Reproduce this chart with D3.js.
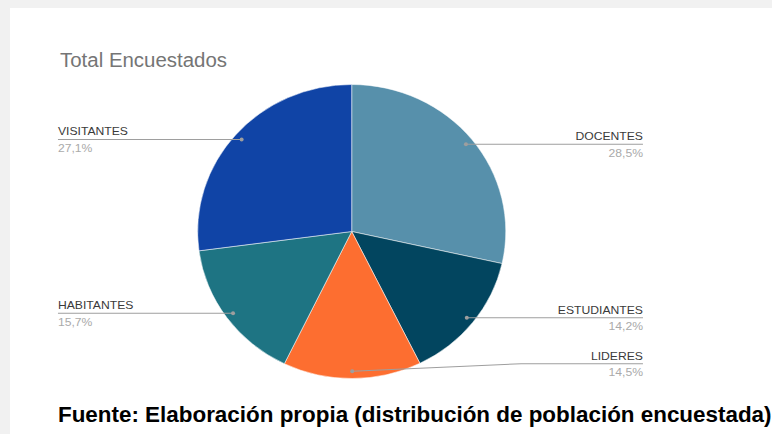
<!DOCTYPE html>
<meta charset="utf-8">
<style>
body { margin: 0; background: #f1f1f1; }
text { font-family: Arial, "Liberation Sans", sans-serif; }
</style>
<body>
<script src="https://cdn.jsdelivr.net/npm/d3@7"></script>
<script>

// data
var categories = ["DOCENTES", "ESTUDIANTES", "LIDERES", "HABITANTES", "VISITANTES"];
var values = [28.5, 14.2, 14.5, 15.7, 27.1];
var colors = ["#5790ab", "#02455f", "#fd6e30", "#1e7483", "#1044a6"];

var width = 772, height = 434;
var stretch = 1.048;   // the picture is a little wider than tall
var cx = 335.6, cy = 231.5, r = 147;

var data = categories.map(function(c, i) { return {name: c, value: values[i], color: colors[i]}; });

var svg = d3.select("body").append("svg")
    .attr("width", width)
    .attr("height", height);

// white card on grey background
svg.append("rect")
    .attr("x", 10).attr("y", 8)
    .attr("width", width - 10).attr("height", height - 8)
    .attr("fill", "#fff");

var g = svg.append("g")
    .attr("transform", "scale(" + stretch + ",1)");

g.append("text")
    .attr("x", 57.3).attr("y", 67)
    .attr("font-size", 19.5)
    .attr("fill", "#757575")
    .text("Total Encuestados");

var pie = d3.pie().sort(null).value(function(d) { return d.value; });
var arcs = pie(data);

var arc = d3.arc().innerRadius(0).outerRadius(r);
var dotArc = d3.arc().innerRadius(r * 0.95).outerRadius(r * 0.95);

var pieG = g.append("g").attr("transform", "translate(" + cx + "," + cy + ")");

pieG.selectAll("path")
    .data(arcs)
  .enter().append("path")
    .attr("d", arc)
    .attr("fill", function(d) { return d.data.color; })
    .attr("stroke", "#fff")
    .attr("stroke-width", 0.5);

// labels
var leftX = 55.3, rightX = 613.5, bottomY = r * 0.9;
var fmt = function(v) { return d3.format(".1f")(v).replace(".", ",") + "%"; };

arcs.forEach(function(d) {
  var c = dotArc.centroid(d);
  var mid = (d.startAngle + d.endAngle) / 2;
  var right = mid < Math.PI;
  var ly = Math.min(c[1], bottomY);
  var ex = right ? rightX - cx : leftX - cx;
  var bx = right ? Math.max(c[0], r * 1.1) : Math.min(c[0], -r * 1.1);
  if (ly === c[1]) bx = c[0];

  pieG.append("polyline")
      .attr("points", [[c[0], c[1]], [bx, ly], [ex, ly]].map(function(p) { return p.join(","); }).join(" "))
      .attr("fill", "none")
      .attr("stroke", "#9e9e9e")
      .attr("stroke-width", 1);

  pieG.append("ellipse")
      .attr("cx", c[0]).attr("cy", c[1])
      .attr("rx", 2 / stretch).attr("ry", 2)
      .attr("fill", "#9e9e9e");

  pieG.append("text")
      .attr("x", ex).attr("y", ly - 4)
      .attr("text-anchor", right ? "end" : "start")
      .attr("font-size", 11.6)
      .attr("fill", "#3a3a3a")
      .text(d.data.name);

  pieG.append("text")
      .attr("x", ex).attr("y", ly + 12.5)
      .attr("text-anchor", right ? "end" : "start")
      .attr("font-size", 11.6)
      .attr("fill", "#aaa")
      .text(fmt(d.data.value));
});

g.append("text")
    .attr("x", 55.3).attr("y", 422)
    .attr("font-size", 21.4)
    .attr("font-weight", "bold")
    .attr("fill", "#000")
    .text("Fuente: Elaboración propia (distribución de población encuestada)");

</script>
</body>
